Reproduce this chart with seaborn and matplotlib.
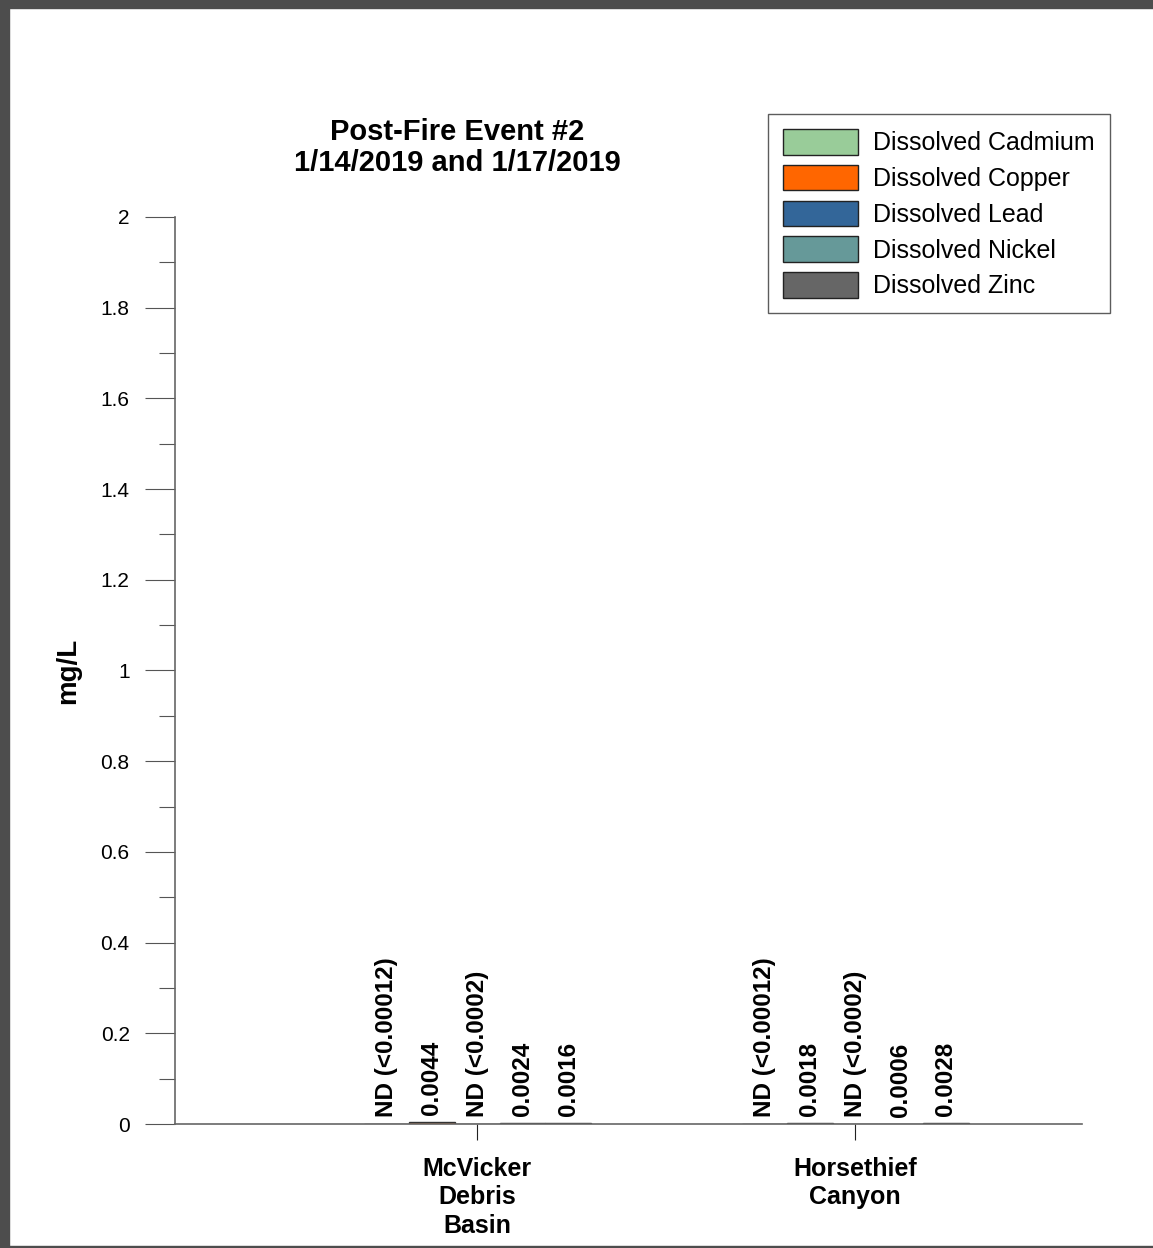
import numpy as np
import pandas as pd
import matplotlib
matplotlib.use('Agg')
import matplotlib.pyplot as plt
from matplotlib.patches import Rectangle
from matplotlib.ticker import MultipleLocator, FuncFormatter
import seaborn as sns

# ---- data ----
sites = ['McVicker\nDebris\nBasin', 'Horsethief\nCanyon']
metals = ['Dissolved Cadmium', 'Dissolved Copper', 'Dissolved Lead',
          'Dissolved Nickel', 'Dissolved Zinc']
# ND results drawn as zero
cadmium = [0.0, 0.0]
copper = [0.0044, 0.0018]
lead = [0.0, 0.0]
nickel = [0.0024, 0.0006]
zinc = [0.0016, 0.0028]
labels = {
    'Dissolved Cadmium': ['ND (<0.00012)', 'ND (<0.00012)'],
    'Dissolved Copper': ['0.0044', '0.0018'],
    'Dissolved Lead': ['ND (<0.0002)', 'ND (<0.0002)'],
    'Dissolved Nickel': ['0.0024', '0.0006'],
    'Dissolved Zinc': ['0.0016', '0.0028'],
}
colors = ['#99cc99', '#ff6600', '#336699', '#669999', '#666666']

values = [cadmium, copper, lead, nickel, zinc]
rows = []
for m, vals in zip(metals, values):
    for s, v in zip(sites, vals):
        rows.append({'site': s, 'metal': m, 'mg/L': v})
df = pd.DataFrame(rows)

# ---- style ----
sns.set_style('ticks')
plt.rcParams['font.family'] = ['Liberation Sans', 'DejaVu Sans']
plt.rcParams['text.color'] = 'black'
plt.rcParams['axes.labelcolor'] = 'black'
plt.rcParams['xtick.color'] = 'black'
plt.rcParams['ytick.color'] = 'black'

fig = plt.figure(figsize=(11.53, 12.48), dpi=100)
ax = fig.add_axes([175 / 1153, 1 - 1124 / 1248, 907 / 1153, 907 / 1248])

sns.barplot(data=df, x='site', y='mg/L', hue='metal', hue_order=metals,
            order=sites, palette=colors, saturation=1, width=0.6, gap=0,
            edgecolor='#333333', linewidth=1, ax=ax)

for cont, m in zip(ax.containers, metals):
    ax.bar_label(cont, labels=labels[m], rotation=90, padding=5,
                 fontsize=17.5, fontweight='bold', color='black')

ax.set_ylim(0, 2)
ax.set_xlim(-0.8, 1.6)
ax.yaxis.set_major_locator(MultipleLocator(0.2))
ax.yaxis.set_minor_locator(MultipleLocator(0.1))
ax.yaxis.set_major_formatter(FuncFormatter(lambda v, p: f'{v:g}'))
ax.tick_params(axis='y', which='major', length=21.6, width=0.8,
               color='#555555', labelsize=15, pad=11)
ax.tick_params(axis='y', which='minor', length=11.5, width=0.8,
               color='#555555')
ax.tick_params(axis='x', length=11.5, width=0.8, color='#222222', pad=12)
for t in ax.get_xticklabels():
    t.set_fontsize(18)
    t.set_fontweight('bold')
    t.set_linespacing(1.25)

sns.despine(ax=ax)
for sp in ['left', 'bottom']:
    ax.spines[sp].set_color('#666666')
    ax.spines[sp].set_linewidth(1.2)

ax.set_xlabel('')
ax.set_ylabel('mg/L', fontsize=20, fontweight='bold')
ax.yaxis.set_label_coords(-0.103, 0.5)

# legend up in the top-right of the page
handles, leg_labels = ax.get_legend_handles_labels()
ax.legend_.remove()
leg = fig.legend(handles, leg_labels, loc='upper right',
                 bbox_to_anchor=(1110 / 1153, 1 - 114 / 1248),
                 fontsize=18, frameon=True, fancybox=False,
                 handlelength=3.0, handleheight=1.2, labelspacing=0.38,
                 handletextpad=0.6, borderpad=0.6, borderaxespad=0)
leg.get_frame().set_edgecolor('#333333')
leg.get_frame().set_linewidth(1.0)
for h in leg.legend_handles:
    h.set_edgecolor('#222222')

fig.text(457 / 1153, 1 - 171 / 1248,
         'Post-Fire Event #2\n1/14/2019 and 1/17/2019',
         ha='center', va='baseline', fontsize=21, fontweight='bold',
         linespacing=1.12)

# page frame
fig.patches.append(Rectangle((0, 0), 9 / 1153, 1, transform=fig.transFigure,
                             color='#4d4d4d', zorder=10))
fig.patches.append(Rectangle((0, 1 - 8 / 1248), 1, 8 / 1248,
                             transform=fig.transFigure, color='#4d4d4d',
                             zorder=10))
fig.patches.append(Rectangle((0, 0), 1, 2 / 1248, transform=fig.transFigure,
                             color='#4d4d4d', zorder=10))

fig.savefig('out.png', dpi=100)
